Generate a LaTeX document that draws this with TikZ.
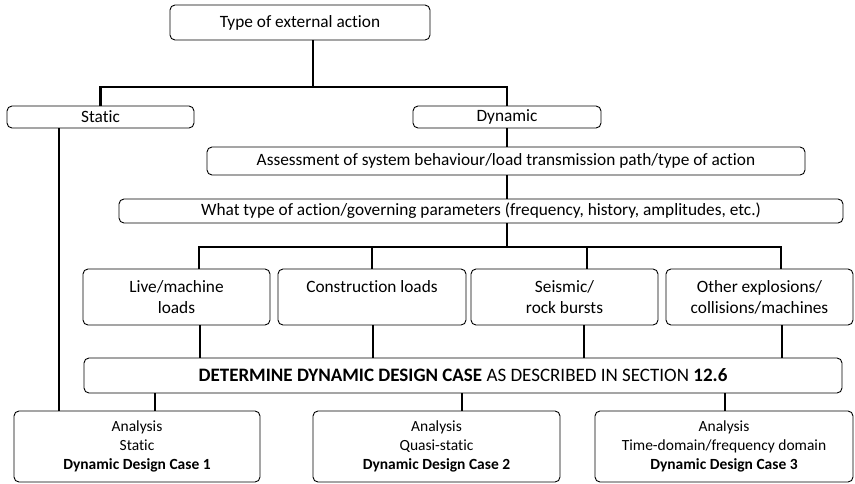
\documentclass[tikz,border=0pt]{standalone}
\usepackage{fontspec}
\setmainfont[Ligatures=NoCommon]{Carlito}
\usetikzlibrary{positioning}

\begin{document}
\begin{tikzpicture}[x=1pt,y=-1pt,
            box/.style = {draw,rounded corners=5pt,line width=0.9pt,
                inner sep=0pt,align=center,
                font=\fontsize{17.3}{21}\selectfont},
            casebox/.style = {box,minimum height=71pt,
                font=\fontsize{15.5}{19}\selectfont},
            link/.style = {line width=2.6pt}]
            \useasboundingbox (0,0) rectangle (855,483);
            % top of the tree
            \node[box,minimum width=260pt,minimum height=35pt] (ext) at (300,22.5) {Type of external action};
            \node[box,minimum width=187pt,minimum height=22pt] (stat) at (100.5,117) {Static};
            \node[box,minimum width=188pt,minimum height=22pt] (dyn) at (507,117) {Dynamic};
            \node[box,minimum width=598pt,minimum height=28pt] (assess) at (506,161)
                {Assessment of system behaviour/load transmission path/type of action};
            \node[box,minimum width=724pt,minimum height=24pt] (what) at (481,211)
                {What type of action/governing parameters (frequency, history, amplitudes, etc.)};
            % kinds of dynamic action
            \node[box,minimum width=187pt,minimum height=56pt] (live) at (176.5,297) {Live/machine\\loads};
            \node[box,minimum width=188pt,minimum height=56pt] (constr) at (372,297) {Construction loads\\\mbox{}};
            \node[box,minimum width=187pt,minimum height=56pt] (seis) at (564.5,297) {Seismic/\\rock bursts};
            \node[box,minimum width=187pt,minimum height=56pt] (other) at (759.5,297) {Other explosions/\\collisions/machines};
            \node[box,minimum width=758pt,minimum height=35pt,font=\fontsize{19}{21}\selectfont] (det) at (463,375.5)
                {\textbf{DETERMINE DYNAMIC DESIGN CASE} AS DESCRIBED IN SECTION \textbf{12.6}};
            % design cases
            \node[casebox,minimum width=246pt] (case1) at (137,446.5)
                {Analysis\\Static\\\textbf{Dynamic Design Case 1}};
            \node[casebox,minimum width=247pt] (case2) at (436.5,446.5)
                {Analysis\\Quasi-static\\\textbf{Dynamic Design Case 2}};
            \node[casebox,minimum width=258pt] (case3) at (724,446.5)
                {Analysis\\Time-domain/frequency domain\\\textbf{Dynamic Design Case 3}};

            \coordinate (split) at (313,87);
            \coordinate (fan) at (507,247);
            \coordinate (sline) at (59,0);
            \coordinate (d1) at (155,0);
            \coordinate (d2) at (462,0);
            \coordinate (d3) at (725,0);

            \draw[link] (ext.south -| split) -- (split);
            \draw[link] (stat.north) |- (split) -| (dyn.north);
            \draw[link] (stat.south -| sline) -- (case1.north -| sline);
            \draw[link] (dyn.south) -- (assess.north -| dyn.south);
            \draw[link] (assess.south -| fan) -- (what.north -| fan);
            \draw[link] (what.south -| fan) -- (fan);
            \draw[link] ([xshift=22.5pt]live.north) |- (fan) -| ([xshift=21.5pt]other.north);
            \draw[link] (constr.north) -- (constr.north |- fan);
            \draw[link] ([xshift=22.5pt]seis.north) -- ([xshift=22.5pt]seis.north |- fan);
            % down into the design case box
            \draw[link] ([xshift=23.5pt]live.south) -- ([xshift=23.5pt]live.south |- det.north);
            \draw[link] ([xshift=1pt]constr.south) -- ([xshift=1pt]constr.south |- det.north);
            \draw[link] ([xshift=19.5pt]seis.south) -- ([xshift=19.5pt]seis.south |- det.north);
            \draw[link] ([xshift=22.5pt]other.south) -- ([xshift=22.5pt]other.south |- det.north);
            \draw[link] (det.south -| d1) -- (case1.north -| d1);
            \draw[link] (det.south -| d2) -- (case2.north -| d2);
            \draw[link] (det.south -| d3) -- (case3.north -| d3);
        \end{tikzpicture}
\end{document}
